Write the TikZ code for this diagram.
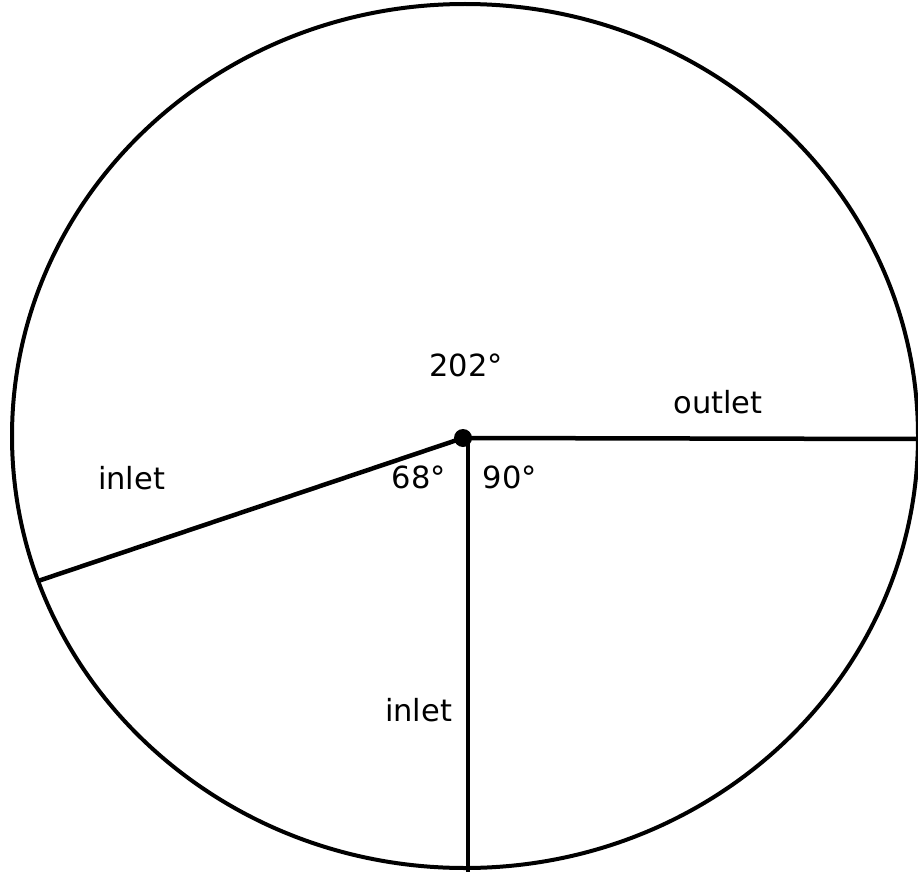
\documentclass[tikz,border=0pt]{standalone}
\usepackage{fontspec}
\setmainfont{DejaVu Sans}
\begin{document}
\begin{tikzpicture}[x=1pt,y=-1pt,
  lbl/.style={inner sep=0pt,anchor=base,font=\fontsize{30.5}{36}\selectfont},
  rim/.style={line width=4pt},
  spoke/.style={line width=4.5pt}]
\useasboundingbox (0,0) rectangle (918,872);
\clip (0,0) rectangle (918,872);
\draw[rim] (465,436) ellipse [x radius=453, y radius=432];
\coordinate (c) at (463,438);
\coordinate (r) at (920,439);
\coordinate (l) at (38,581);
\coordinate (vt) at (468,440);
\coordinate (vb) at (468,872);
\draw[spoke] (c) -- (r);
\draw[spoke] (c) -- (l);
\draw[spoke] (vt) -- (vb);
\fill (c) circle [radius=9];
\node[lbl] (a202) at (466,376) {202°};
\node[lbl] (out) at (718,413) {outlet};
\node[lbl] (in1) at (131.5,489) {inlet};
\node[lbl] (a68) at (419,488) {68°};
\node[lbl] (a90) at (510,488) {90°};
\node[lbl] (in2) at (418.5,721) {inlet};
\end{tikzpicture}
\end{document}
